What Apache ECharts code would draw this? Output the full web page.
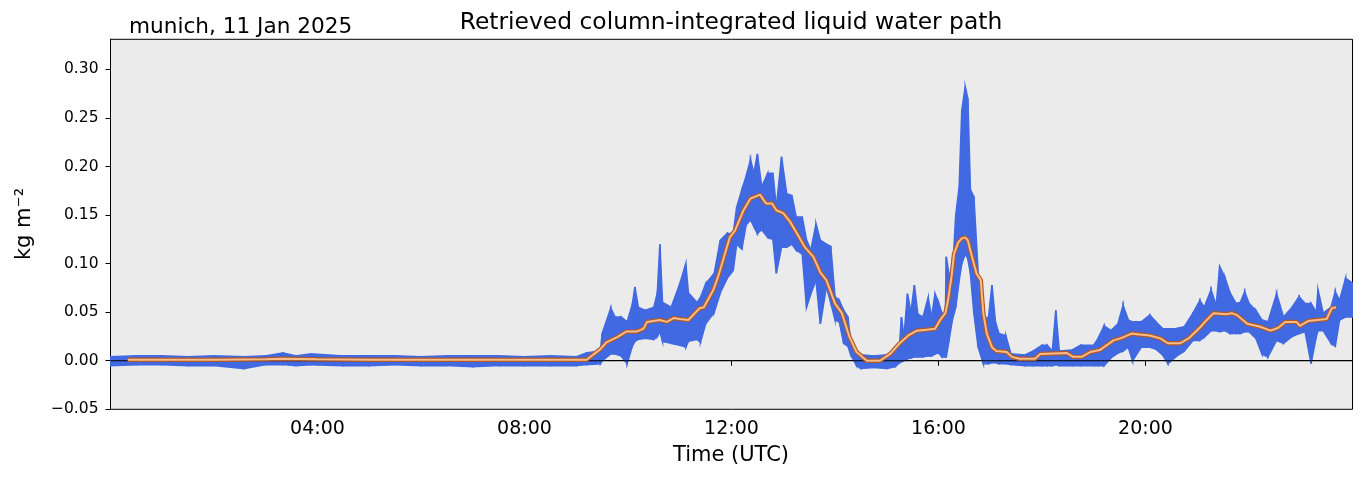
<!DOCTYPE html>
<html>
<head>
<meta charset="utf-8">
<script src="https://cdn.jsdelivr.net/npm/echarts@6/dist/echarts.min.js"></script>
<style>html,body{margin:0;padding:0;background:#fff}#c{width:1363px;height:478px}</style>
</head>
<body>
<div id="c"></div>
<script>
// Blue retrieved values: envelope (low/high) of the dense scatter cloud
const bandTime = ["00:00","00:30","01:00","01:30","02:00","02:35","03:00","03:20","03:35","03:52","04:30","05:00","05:30","06:00","06:30","07:00","07:30","08:00","08:30","09:00",
"09:12","09:28","09:30","09:40","09:45","09:52","09:59","10:05","10:08","10:12","10:20","10:30","10:34","10:37","10:40","10:50","11:00","11:07","11:10","11:20","11:24","11:30","11:40","11:47","11:55",
"12:02","12:06","12:12","12:17","12:22","12:26","12:30","12:35","12:42","12:48","12:52","12:58","13:04","13:10","13:15","13:22","13:27","13:32","13:38","13:43","13:50","13:55",
"14:00","14:05","14:10","14:15","14:18","14:25","14:30","14:45","15:00","15:10","15:15","15:17","15:20","15:24","15:28","15:32","15:36","15:42","15:48","15:52","15:56",
"16:00","16:04","16:08","16:09","16:12","16:16","16:20","16:24","16:27","16:31","16:34","16:37","16:41","16:46","16:52","16:58","17:02","17:06","17:10","17:18","17:24","17:40","17:50",
"18:00","18:06","18:12","18:16","18:20","18:35","18:45","19:00","19:05","19:12","19:20","19:28","19:34","19:40","19:45","19:55","20:05","20:12","20:20","20:26","20:35","20:45","20:55",
"21:03","21:08","21:16","21:22","21:26","21:32","21:38","21:45","21:50","21:55","22:00","22:08","22:15","22:22","22:32","22:40","22:50","22:58","23:05","23:12","23:18","23:20","23:26","23:35","23:40","23:45","23:52","24:00"];
const bandLow = [-0.005,-0.004,-0.004,-0.005,-0.005,-0.008,-0.004,-0.004,-0.005,-0.004,-0.005,-0.005,-0.004,-0.005,-0.005,-0.006,-0.005,-0.005,-0.005,-0.005,
-0.004,-0.003,0.000,0.007,0.007,0.005,-0.003,0.015,0.020,0.022,0.023,0.022,0.025,0.030,0.020,0.018,0.016,0.014,0.020,0.022,0.019,0.038,0.050,0.070,0.085,
0.093,0.120,0.115,0.140,0.145,0.138,0.131,0.135,0.127,0.125,0.090,0.117,0.117,0.120,0.114,0.110,0.055,0.069,0.083,0.038,0.076,0.060,
0.042,0.040,0.018,0.015,0.007,-0.005,-0.008,-0.007,-0.008,-0.006,-0.002,-0.001,0.000,0.002,0.003,0.004,0.004,0.004,0.005,0.005,0.007,
0.008,0.004,0.004,0.004,0.020,0.042,0.055,0.083,0.100,0.110,0.105,0.090,0.049,0.014,-0.003,-0.003,-0.002,-0.002,-0.003,-0.003,-0.004,-0.005,-0.005,
-0.005,-0.005,-0.005,-0.004,-0.005,-0.005,-0.005,-0.005,-0.005,-0.005,0.003,0.008,0.010,0.014,0.000,0.014,0.014,0.012,0.006,-0.003,0.004,0.010,0.021,
0.021,0.024,0.031,0.031,0.030,0.031,0.028,0.028,0.028,0.030,0.030,0.023,0.007,0.004,0.021,0.018,0.025,0.028,0.030,-0.003,0.025,0.031,0.031,0.018,0.015,0.042,0.045,0.045];
const bandHigh = [0.004,0.005,0.005,0.004,0.005,0.004,0.005,0.008,0.005,0.007,0.005,0.005,0.005,0.004,0.005,0.005,0.005,0.004,0.005,0.004,
0.008,0.010,0.028,0.054,0.045,0.045,0.040,0.058,0.076,0.055,0.052,0.055,0.070,0.120,0.060,0.055,0.079,0.100,0.070,0.060,0.065,0.079,0.090,0.124,0.131,
0.131,0.158,0.176,0.190,0.207,0.193,0.213,0.179,0.193,0.193,0.158,0.210,0.172,0.170,0.148,0.148,0.124,0.114,0.141,0.124,0.120,0.118,
0.066,0.062,0.052,0.045,0.021,0.010,0.006,0.005,0.006,0.008,0.018,0.045,0.025,0.069,0.050,0.078,0.048,0.045,0.065,0.045,0.069,
0.060,0.049,0.045,0.107,0.090,0.086,0.150,0.179,0.258,0.282,0.270,0.176,0.169,0.090,0.042,0.045,0.078,0.040,0.028,0.026,0.007,0.006,0.010,
0.016,0.016,0.010,0.052,0.010,0.011,0.016,0.016,0.023,0.036,0.031,0.038,0.057,0.042,0.040,0.040,0.047,0.040,0.033,0.033,0.033,0.035,0.049,
0.062,0.055,0.073,0.057,0.097,0.086,0.070,0.059,0.060,0.071,0.059,0.052,0.042,0.040,0.069,0.045,0.055,0.066,0.059,0.059,0.050,0.073,0.049,0.055,0.071,0.062,0.085,0.080];

// Orange running mean
const meanTime = ["00:20","01:00","02:00","03:00","03:20","04:00","05:00","06:00","07:00","08:00","09:12","09:28","09:35","09:47","09:58","10:10","10:18","10:22","10:37","10:45","10:53",
"11:00","11:10","11:23","11:28","11:39","11:45","11:50","11:58","12:04","12:14","12:22","12:33","12:40","12:47","12:52","13:00","13:08","13:16","13:25","13:35","13:43","13:50",
"14:00","14:08","14:17","14:25","14:37","14:52","15:04","15:15","15:25","15:35","15:46","15:56","16:02","16:08","16:11","16:15","16:18","16:23","16:27","16:31","16:34","16:38","16:44","16:49","16:52","16:56",
"17:02","17:07","17:19","17:25","17:34","17:52","17:58","18:29","18:36","18:46","18:56","19:07","19:23","19:31","19:44","19:53","20:05","20:17","20:26","20:40","20:50",
"21:04","21:11","21:19","21:34","21:40","21:46","21:58","22:13","22:25","22:34","22:42","22:55","22:59","23:09","23:19","23:30","23:36","23:41"];
const meanValue = [0.001,0.001,0.001,0.0015,0.002,0.0015,0.001,0.001,0.001,0.001,0.001,0.012,0.019,0.024,0.030,0.030,0.033,0.040,0.042,0.040,0.044,
0.043,0.042,0.054,0.055,0.073,0.088,0.103,0.127,0.134,0.155,0.167,0.171,0.162,0.162,0.155,0.152,0.143,0.131,0.117,0.107,0.091,0.083,
0.059,0.049,0.024,0.009,0.000,0.000,0.007,0.018,0.026,0.031,0.032,0.033,0.042,0.049,0.062,0.086,0.110,0.122,0.126,0.127,0.124,0.110,0.090,0.083,0.049,0.028,
0.014,0.010,0.009,0.004,0.002,0.002,0.007,0.008,0.004,0.004,0.009,0.011,0.021,0.023,0.028,0.027,0.026,0.023,0.018,0.018,0.023,
0.035,0.042,0.049,0.048,0.049,0.047,0.038,0.035,0.031,0.034,0.040,0.040,0.036,0.041,0.042,0.043,0.054,0.055];

const xTickHours = [0,4,8,12,16,20,24];
const xLabelHours = [4,8,12,16,20];
const yTicks = [-0.05,0.00,0.05,0.10,0.15,0.20,0.25,0.30];

function toH(s){const p=s.split(':');return (+p[0])+(+p[1])/60;}
const FONT = '"DejaVu Sans", sans-serif';

const bandItems = [];
for (let i=0;i<bandTime.length-1;i++){
  bandItems.push([toH(bandTime[i]),bandLow[i],bandHigh[i],toH(bandTime[i+1]),bandLow[i+1],bandHigh[i+1]]);
}
const meanData = meanTime.map((t,i)=>[toH(t),meanValue[i]]);

const chart = echarts.init(document.getElementById('c'));
chart.setOption({
  animation:false,
  grid:{left:110.5,right:10.5,top:39.3,bottom:68.7,show:true,backgroundColor:'#ebebeb',borderColor:'#000',borderWidth:1,z:0},
  xAxis:{type:'value',min:0,max:24,interval:4,
    axisLine:{show:true,lineStyle:{color:'#000',width:1}},
    axisTick:{show:true,length:5,lineStyle:{color:'#000'},customValues:xTickHours},
    axisLabel:{color:'#000',fontSize:19,fontFamily:FONT,margin:10,customValues:xLabelHours,
      formatter:v=>(v<10?'0':'')+v+':00'},
    splitLine:{show:false}},
  yAxis:{type:'value',min:-0.05,max:0.331,interval:0.05,
    axisLine:{show:true,lineStyle:{color:'#000',width:1}},
    axisTick:{show:true,length:5,lineStyle:{color:'#000'},customValues:yTicks},
    axisLabel:{color:'#000',fontSize:15.5,fontFamily:FONT,margin:12,customValues:yTicks,
      formatter:v=>v.toFixed(2).replace('-','\u2212')},
    splitLine:{show:false}},
  series:[
    {type:'custom',name:'LWP',z:2,clip:true,data:bandItems,encode:{x:[0,3],y:[1,2,4,5]},
      renderItem:function(params,api){
        const a=api.coord([api.value(0),api.value(1)]);
        const b=api.coord([api.value(0),api.value(2)]);
        const c=api.coord([api.value(3),api.value(5)]);
        const d=api.coord([api.value(3),api.value(4)]);
        return {type:'polygon',shape:{points:[a,b,c,d]},style:{fill:'#4169e1',stroke:'#4169e1',lineWidth:1.6}};
      }},
    {type:'line',name:'zero',z:3,data:[[0,0],[24,0]],showSymbol:false,lineStyle:{color:'#000',width:1.2},silent:true},
    {type:'line',name:'mean-edge',z:4,data:meanData,showSymbol:false,lineStyle:{color:'#b05a28',width:4.4},silent:true},
    {type:'line',name:'mean',z:5,data:meanData,showSymbol:false,lineStyle:{color:'#f6bc8a',width:2},silent:true}
  ],
  graphic:[
    {type:'text',z:10,x:731,y:23,style:{text:'Retrieved column-integrated liquid water path',font:'23.4px '+FONT,fill:'#000',textAlign:'center',textVerticalAlign:'middle'}},
    {type:'text',z:10,x:129,y:27,style:{text:'munich, 11 Jan 2025',font:'21.6px '+FONT,fill:'#000',textAlign:'left',textVerticalAlign:'middle'}},
    {type:'text',z:10,x:731,y:456,style:{text:'Time (UTC)',font:'21px '+FONT,fill:'#000',textAlign:'center',textVerticalAlign:'middle'}},
    {type:'text',z:10,x:25,y:224,rotation:Math.PI/2,style:{text:'kg m\u207B\u00B2',font:'21px '+FONT,fill:'#000',textAlign:'center',textVerticalAlign:'middle'}}
  ]
});
</script>
</body>
</html>
